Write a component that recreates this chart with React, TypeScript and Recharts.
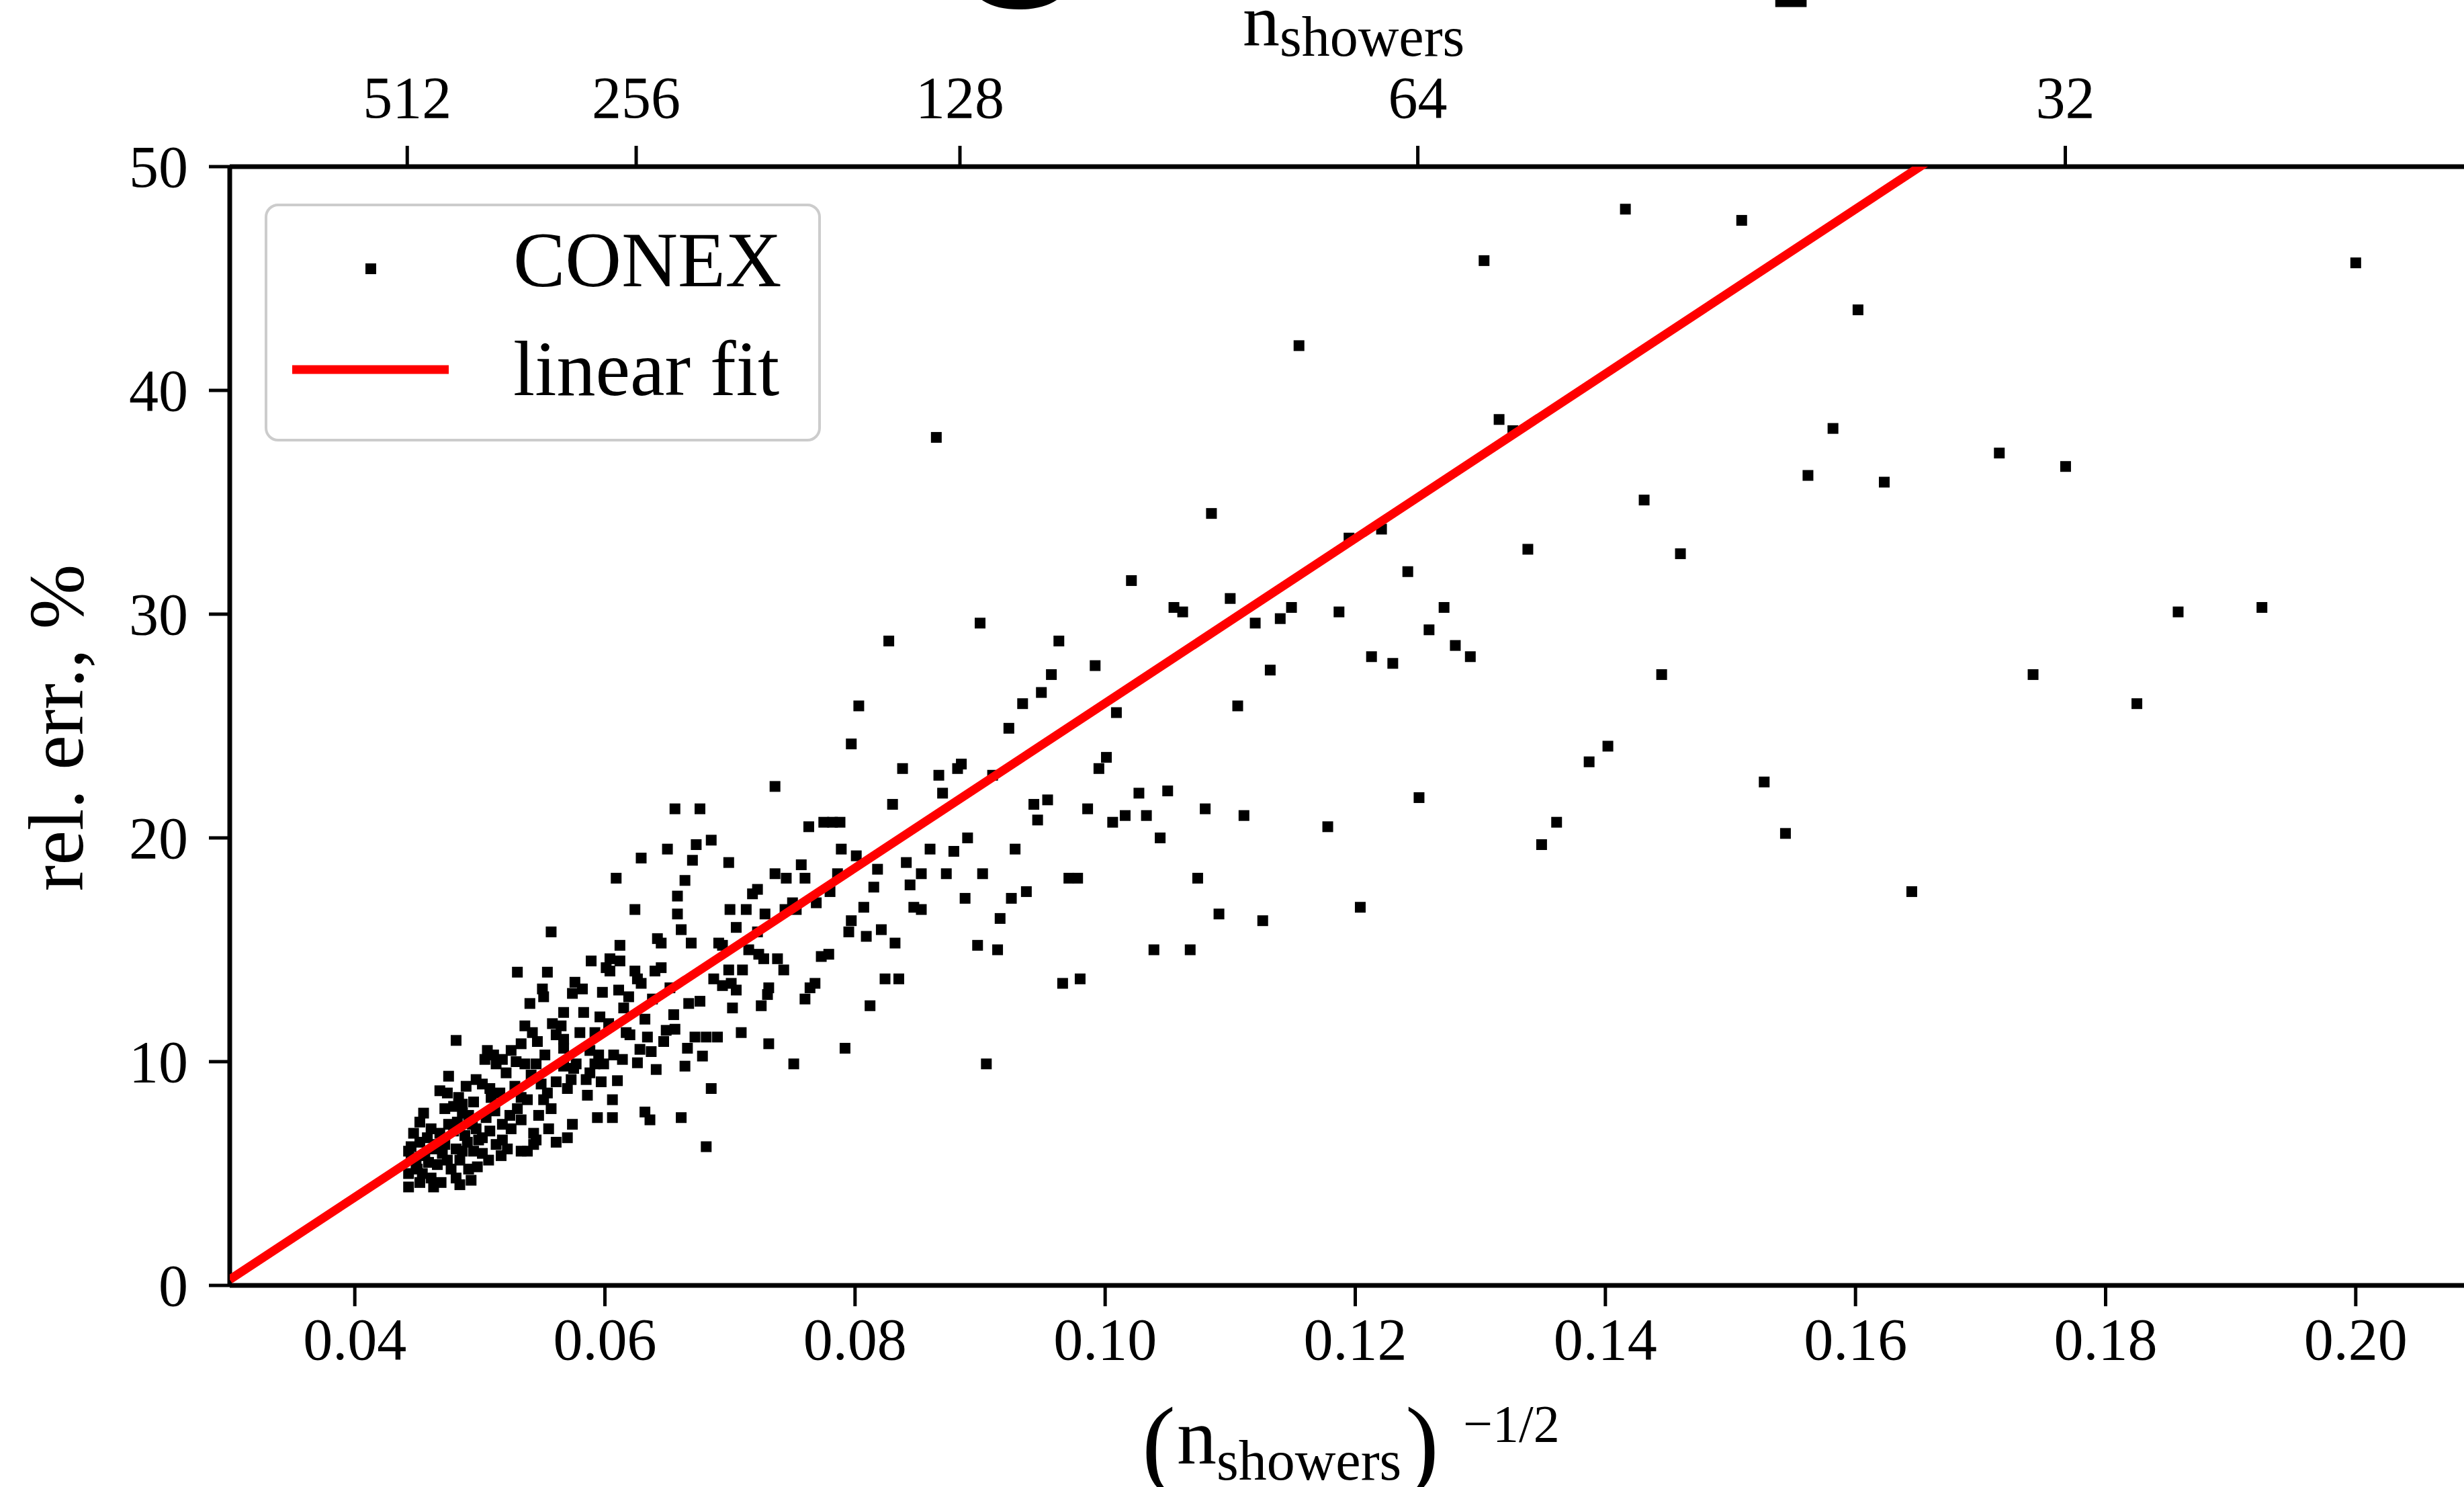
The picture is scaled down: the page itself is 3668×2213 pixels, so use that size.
import React from "react";
import { ScatterChart, Scatter, XAxis, YAxis, Legend, Customized } from "recharts";

const SERIF = '"Liberation Serif", "Times New Roman", serif';

// (n_showers)^-1/2 , rel. err. in %
// densest part, n ~ 200..500
const conexCore: [number, number][] = [
  [0.0557, 15.8], [0.053, 14.0], [0.0554, 14.0], [0.055, 13.25], [0.0551, 12.9], [0.054, 12.6],
  [0.0567, 12.2], [0.0558, 11.7], [0.0565, 11.6], [0.0561, 11.2], [0.0567, 11.0], [0.0567, 10.6],
  [0.0536, 11.6], [0.0542, 11.3], [0.0533, 10.8], [0.0525, 10.5], [0.0481, 10.95],
  [0.0506, 10.5], [0.0511, 10.3], [0.0518, 10.1], [0.0513, 9.9], [0.0504, 10.1],
  [0.0529, 10.0], [0.0536, 9.9], [0.0545, 9.9], [0.0475, 9.35],
  [0.0468, 8.7], [0.0474, 8.6], [0.0483, 8.4], [0.0486, 8.1], [0.0497, 9.2], [0.0502, 9.0],
  [0.0509, 8.4], [0.0508, 8.8], [0.0533, 8.4], [0.0538, 8.3],
  [0.0549, 9.0], [0.0554, 8.6], [0.0551, 8.3], [0.0561, 9.1], [0.057, 8.8], [0.0567, 9.8],
  [0.0455, 7.7], [0.0472, 7.9], [0.0479, 8.0], [0.0486, 7.7], [0.0491, 7.6],
  [0.0461, 7.0], [0.0468, 6.8], [0.0475, 7.2], [0.0482, 7.3],
  [0.0497, 7.0], [0.0502, 6.6], [0.0508, 6.9],
  [0.0524, 7.6], [0.0533, 7.4], [0.0525, 7.0], [0.0518, 7.2], [0.0547, 7.6],
  [0.0543, 6.8], [0.0545, 6.5],
  [0.0518, 6.5], [0.0513, 6.3], [0.0522, 6.1], [0.0533, 6.0],
  [0.0445, 6.2], [0.0443, 6.0], [0.0452, 6.4],
  [0.0463, 6.1], [0.0472, 6.3], [0.0481, 6.1], [0.049, 6.4], [0.0486, 6.0], [0.0495, 6.0], [0.0502, 5.9],
  [0.0445, 5.7], [0.0449, 5.4], [0.0459, 5.5], [0.0466, 5.4], [0.0474, 5.6],
  [0.0477, 5.2], [0.0481, 4.8], [0.0491, 5.2], [0.0493, 4.7],
  [0.0443, 5.0], [0.0443, 4.4], [0.0461, 4.8], [0.0463, 4.4], [0.045, 5.2], [0.0454, 5.0],
  [0.0561, 6.4], [0.057, 6.6], [0.0574, 7.2], [0.0538, 6.0], [0.0543, 6.3],
  [0.0447, 6.8], [0.0452, 7.3], [0.0458, 6.6], [0.0465, 6.3], [0.047, 5.9], [0.0456, 5.8],
  [0.0484, 5.6], [0.0488, 6.7], [0.0499, 6.5], [0.0494, 7.2], [0.0479, 6.9], [0.0505, 7.5],
  [0.0512, 7.8], [0.0495, 8.2], [0.0489, 8.9], [0.0516, 8.6], [0.0528, 8.9], [0.0541, 9.4],
  [0.0552, 10.3], [0.0546, 10.9], [0.0521, 9.5], [0.053, 7.9], [0.0555, 7.0], [0.0557, 7.9],
  [0.0469, 4.6], [0.0452, 4.6], [0.0484, 4.5], [0.0498, 5.3], [0.0507, 5.6], [0.0517, 5.8],
  [0.0658, 17.4], [0.0624, 16.8], [0.0658, 16.6], [0.0661, 15.9], [0.0669, 15.3], [0.0642, 15.5],
  [0.0645, 15.3], [0.0691, 15.3], [0.0694, 15.2],
  [0.0612, 15.2], [0.0589, 14.5], [0.0604, 14.6], [0.0612, 14.5], [0.0601, 14.2], [0.0604, 14.05],
  [0.0624, 14.05], [0.0626, 13.7], [0.0629, 13.5], [0.064, 14.05], [0.0645, 14.2],
  [0.0576, 13.55], [0.0582, 13.25], [0.0574, 13.05], [0.0652, 13.3],
  [0.0687, 13.7], [0.0694, 13.4],
  [0.0667, 12.6], [0.0676, 12.7], [0.0615, 12.4], [0.0632, 11.9],
  [0.0596, 12.0], [0.0603, 11.7], [0.0611, 13.2], [0.0619, 12.9], [0.0583, 12.2], [0.0598, 13.1],
  [0.0638, 12.8], [0.0655, 12.1], [0.0606, 8.3],
  [0.058, 11.3], [0.0592, 11.3], [0.0617, 11.3], [0.062, 11.2], [0.0634, 11.1], [0.0649, 11.4],
  [0.0656, 11.45], [0.0647, 10.9],
  [0.0672, 11.1], [0.0681, 11.1], [0.069, 11.1], [0.0666, 10.6], [0.0678, 10.25],
  [0.0628, 10.55], [0.0637, 10.45], [0.0607, 10.3], [0.0614, 10.1], [0.0626, 9.95], [0.0641, 9.65],
  [0.0664, 9.8],
  [0.0588, 10.5], [0.0595, 10.3], [0.0599, 9.9], [0.0592, 9.9], [0.0588, 9.5], [0.0597, 9.1],
  [0.061, 9.15], [0.0585, 9.2], [0.0575, 9.7], [0.0577, 9.9],
  [0.0573, 9.2], [0.0586, 8.5], [0.0594, 7.5], [0.0606, 7.5], [0.0632, 7.75], [0.0636, 7.4],
  [0.0661, 7.5], [0.0685, 8.8], [0.0681, 6.2],
  [0.0656, 21.3], [0.0676, 21.3], [0.065, 19.5], [0.0673, 19.7], [0.0685, 19.9], [0.0629, 19.1],
  [0.067, 19.0], [0.0609, 18.2], [0.0664, 18.1],
];

// n ~ 100..200
const conexMid: [number, number][] = [
  [0.0827, 28.8], [0.0803, 25.9], [0.0797, 24.2], [0.0736, 22.3], [0.0838, 23.1], [0.0867, 22.8],
  [0.0882, 23.1], [0.0885, 23.3], [0.087, 22.0], [0.083, 21.5],
  [0.0763, 20.5], [0.0775, 20.7], [0.0782, 20.7], [0.0788, 20.7], [0.0789, 19.5], [0.0801, 19.2],
  [0.0699, 18.9], [0.0736, 18.4], [0.0745, 18.2], [0.0757, 18.8], [0.076, 18.2], [0.0786, 18.4],
  [0.0818, 18.6], [0.0841, 18.9], [0.0853, 18.4], [0.086, 19.5], [0.0879, 19.4], [0.089, 20.0],
  [0.0873, 18.4],
  [0.0844, 17.9], [0.0815, 17.8], [0.078, 17.6], [0.0718, 17.5], [0.0722, 17.7],
  [0.07, 16.8], [0.0713, 16.8], [0.0728, 16.6], [0.0744, 16.8], [0.075, 17.1], [0.0753, 16.8],
  [0.0769, 17.1], [0.0807, 16.9], [0.0847, 16.9], [0.0853, 16.8], [0.0888, 17.3],
  [0.0705, 16.0], [0.0722, 15.8], [0.0797, 16.3], [0.0795, 15.8], [0.0809, 15.6], [0.0821, 15.9],
  [0.0832, 15.3],
  [0.0715, 15.0], [0.0723, 14.8], [0.0727, 14.6], [0.0738, 14.6], [0.0743, 14.1], [0.0773, 14.7],
  [0.0779, 14.8],
  [0.0699, 14.1], [0.071, 14.1], [0.0701, 13.5], [0.0705, 13.2], [0.0702, 12.4],
  [0.0731, 13.3], [0.073, 13.0], [0.0725, 12.5], [0.0768, 13.5], [0.0764, 13.3], [0.076, 12.8],
  [0.0824, 13.7], [0.0835, 13.7], [0.0812, 12.5], [0.0709, 11.3], [0.0731, 10.8], [0.0792, 10.6],
  [0.0751, 9.9], [0.0905, 9.9],
  [0.0865, 37.9],
];

// n < 130, sparse
const conexOuter: [number, number][] = [
  [0.1085, 34.5], [0.1195, 33.4], [0.1221, 33.8], [0.1242, 31.9], [0.1021, 31.5], [0.11, 30.7],
  [0.1055, 30.3], [0.1062, 30.1], [0.112, 29.6], [0.114, 29.8], [0.1149, 30.3], [0.1187, 30.1],
  [0.1271, 30.3], [0.1259, 29.3], [0.128, 28.6], [0.1292, 28.1], [0.1213, 28.1], [0.123, 27.8],
  [0.1132, 27.5],
  [0.09, 29.6], [0.0963, 28.8], [0.0992, 27.7], [0.0957, 27.3], [0.0949, 26.5], [0.0934, 26.0],
  [0.0923, 24.9], [0.1009, 25.6], [0.1106, 25.9], [0.091, 22.8], [0.1001, 23.6], [0.0995, 23.1],
  [0.0943, 21.5], [0.0954, 21.7], [0.0946, 20.8], [0.0986, 21.3], [0.1006, 20.7], [0.1016, 21.0],
  [0.1027, 22.0], [0.1033, 21.0], [0.105, 22.1], [0.1044, 20.0], [0.108, 21.3], [0.1111, 21.0],
  [0.1178, 20.5], [0.1251, 21.8],
  [0.0928, 19.5], [0.0902, 18.4], [0.0937, 17.6], [0.0925, 17.3], [0.0916, 16.4], [0.0971, 18.2],
  [0.0978, 18.2], [0.1074, 18.2], [0.1091, 16.6], [0.1126, 16.3], [0.1204, 16.9],
  [0.0898, 15.2], [0.0914, 15.0], [0.1039, 15.0], [0.1068, 15.0], [0.0966, 13.5], [0.098, 13.7],
  [0.1155, 42.0],
  [0.1416, 48.1], [0.1509, 47.6], [0.1303, 45.8], [0.2, 45.7], [0.1602, 43.6], [0.1315, 38.7],
  [0.1326, 38.2], [0.1582, 38.3], [0.1562, 36.2], [0.1623, 35.9], [0.1715, 37.2], [0.1768, 36.6],
  [0.1431, 35.1], [0.1338, 32.9], [0.146, 32.7], [0.1445, 27.3], [0.1742, 27.3], [0.1825, 26.0],
  [0.1858, 30.1], [0.1925, 30.3], [0.1402, 24.1], [0.1387, 23.4], [0.1527, 22.5], [0.1361, 20.7],
  [0.1349, 19.7], [0.1544, 20.2], [0.1645, 17.6],
];

// end points of the linear fit
const fitLine = [
  { x: 0.03, y: 0.26 },
  { x: 0.21, y: 66.5 },
];

const xDomain: [number, number] = [0.03, 0.21];
const yDomain: [number, number] = [0, 50];
const xTicks = [0.04, 0.06, 0.08, 0.1, 0.12, 0.14, 0.16, 0.18, 0.2];
const yTicks = [0, 10, 20, 30, 40, 50];
const showerCounts = [512, 256, 128, 64, 32];

const conexData = [...conexCore, ...conexMid, ...conexOuter].map(([x, y]) => ({ x, y }));
const topTicks = showerCounts.map((n) => 1 / Math.sqrt(n));

const BottomTick = (props: any) => (
  <text x={props.x} y={props.y + 79} textAnchor="middle" fontFamily={SERIF} fontSize={88} fill="#000">
    {props.payload.value.toFixed(2)}
  </text>
);

const TopTick = (props: any) => (
  <text x={props.x} y={props.y - 42} textAnchor="middle" fontFamily={SERIF} fontSize={88} fill="#000">
    {Math.round(1 / (props.payload.value * props.payload.value))}
  </text>
);

const LeftTick = (props: any) => (
  <text x={props.x - 31} y={props.y + 30} textAnchor="end" fontFamily={SERIF} fontSize={88} fill="#000">
    {props.payload.value}
  </text>
);

const XTitle = () => (
  <g fontFamily={SERIF} fill="#000">
    <text x={1700} y={2198} fontSize={150}>(</text>
    <text x={1752} y={2178} fontSize={118}>
      n<tspan fontSize={84} dy={24}>showers</tspan>
    </text>
    <text x={2092} y={2198} fontSize={150}>)</text>
    <text x={2178} y={2145} fontSize={78}>−1/2</text>
  </g>
);

const TopTitle = () => (
  <text x={1850} y={68} fontFamily={SERIF} fontSize={110} fill="#000">
    n<tspan fontSize={84} dy={15}>showers</tspan>
  </text>
);

const YTitle = () => (
  <text x={123} y={1083} transform="rotate(-90 123 1083)" textAnchor="middle" fontFamily={SERIF} fontSize={116} fill="#000">
    rel. err., %
  </text>
);

// bits of a large heading that is cut off by the top edge
const HeadingCut = () => (
  <g fontFamily='"Liberation Sans", Arial, sans-serif' fontWeight="bold" fontSize={340} fill="#000">
    <text x={1418} y={-58}>g</text>
    <text x={2619} y={-60}>p</text>
  </g>
);

const SquareDot = (props: any) => (
  <rect x={props.cx - 8} y={props.cy - 8} width={16} height={16} fill="#000" />
);

const NoDot = () => <g />;

const LegendBox = () => (
  <svg width={830} height={356} style={{ display: "block" }}>
    <rect x={2} y={2} width={824} height={350} rx={18} ry={18} fill="#fff" stroke="#cccccc" strokeWidth={4} />
    <rect x={150} y={89} width={16} height={16} fill="#000" />
    <line x1={41} x2={274} y1={247} y2={247} stroke="#ff0000" strokeWidth={13} />
    <text x={370} y={123} fontFamily={SERIF} fontSize={116} fill="#000">CONEX</text>
    <text x={370} y={285} fontFamily={SERIF} fontSize={116} fill="#000">linear fit</text>
  </svg>
);

export default function App() {
  const axisLine = { stroke: "#000", strokeWidth: 7 };
  const tickLine = { stroke: "#000", strokeWidth: 5 };
  return (
    <div
      style={{
        position: "fixed",
        left: 0,
        top: 0,
        width: 3668,
        height: 2213,
        overflow: "hidden",
        background: "#fff",
      }}
    >
      <ScatterChart width={3760} height={2213} margin={{ top: 0, right: 67, bottom: 0, left: 0 }}>
        <XAxis
          xAxisId="bottom"
          orientation="bottom"
          type="number"
          dataKey="x"
          domain={xDomain}
          allowDataOverflow
          ticks={xTicks}
          interval={0}
          height={300}
          tickSize={31}
          tickMargin={0}
          axisLine={axisLine}
          tickLine={tickLine}
          tick={<BottomTick />}
          label={<XTitle />}
        />
        <XAxis
          xAxisId="top"
          orientation="top"
          type="number"
          dataKey="x"
          domain={xDomain}
          allowDataOverflow
          ticks={topTicks}
          interval={0}
          height={248}
          tickSize={31}
          tickMargin={0}
          axisLine={axisLine}
          tickLine={tickLine}
          tick={<TopTick />}
          label={<TopTitle />}
        />
        <YAxis
          yAxisId="left"
          type="number"
          dataKey="y"
          domain={yDomain}
          allowDataOverflow
          ticks={yTicks}
          interval={0}
          width={342}
          tickSize={31}
          tickMargin={0}
          axisLine={axisLine}
          tickLine={tickLine}
          tick={<LeftTick />}
          label={<YTitle />}
        />
        <Legend
          layout="vertical"
          align="center"
          verticalAlign="middle"
          content={<LegendBox />}
          wrapperStyle={{ left: 394, top: 303, width: 830, height: 356 }}
        />
        <Customized component={HeadingCut} />
        <Scatter
          name="CONEX"
          data={conexData}
          xAxisId="bottom"
          yAxisId="left"
          fill="#000"
          shape={<SquareDot />}
          isAnimationActive={false}
        />
        <Scatter
          name="linear fit"
          data={fitLine}
          xAxisId="bottom"
          yAxisId="left"
          fill="#ff0000"
          line={{ stroke: "#ff0000", strokeWidth: 13 }}
          lineType="joint"
          shape={<NoDot />}
          isAnimationActive={false}
        />
      </ScatterChart>
    </div>
  );
}
